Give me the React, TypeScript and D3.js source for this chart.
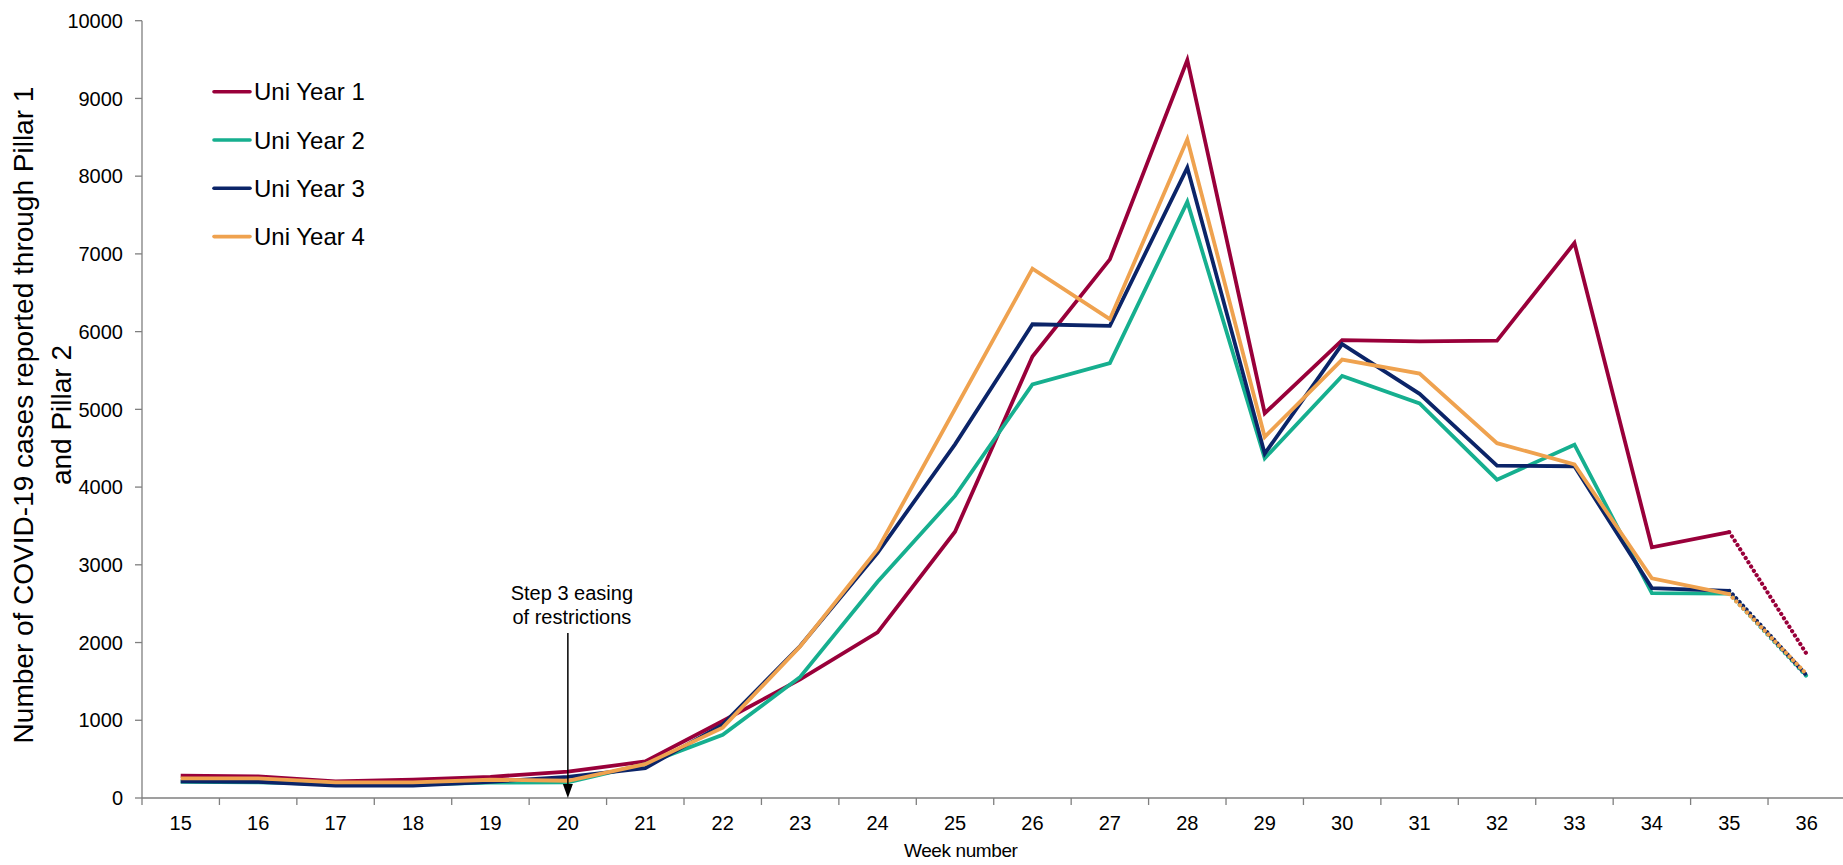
import React from "react";
import * as d3 from "d3";

const weeks = [15,16,17,18,19,20,21,22,23,24,25,26,27,28,29,30,31,32,33,34,35,36];
const year1 = [286,278,214,235,273,338,470,990,1525,2130,3425,5680,6930,9495,4950,5890,5875,5885,7140,3225,3420,1850];
const year2 = [209,200,180,171,197,200,436,812,1557,2782,3886,5320,5595,7670,4370,5430,5075,4095,4545,2635,2630,1565];
const year3 = [214,209,158,158,209,273,385,945,1955,3155,4550,6095,6075,8110,4430,5840,5200,4275,4268,2700,2665,1575];
const year4 = [252,252,200,200,235,222,436,905,1950,3200,5005,6810,6160,8475,4645,5640,5460,4565,4292,2825,2622,1592];
const seriesNames = ["Uni Year 1","Uni Year 2","Uni Year 3","Uni Year 4"];
const seriesColors = ["#99003A","#16AF8F","#0B2468","#EFA24F"];
const yTicks = [0,1000,2000,3000,4000,5000,6000,7000,8000,9000,10000];
const annotationLines = ["Step 3 easing","of restrictions"];
const annotationWeek = 20;

const W = 1843, H = 865;
const FONT = "'Liberation Sans', Arial, sans-serif";

export default function App() {
  const left = 142, band = 77.43;
  const x = d3.scaleBand<number>().domain(weeks).range([left, left + band * weeks.length]).padding(0);
  const y = d3.scaleLinear().domain([0, 10000]).range([798, 20.7]);
  const cx = (w: number) => (x(w) as number) + x.bandwidth() / 2;
  const all = [year1, year2, year3, year4];
  const lineGen = d3.line<[number, number]>().x(d => cx(d[0])).y(d => y(d[1]));
  const lastIdx = weeks.length - 1;
  const axisColor = "#7f7f7f";
  const ax = cx(annotationWeek);

  return (
    <svg width={W} height={H} style={{ position: "absolute", left: 0, top: 0, display: "block", background: "#fff" }} fontFamily={FONT}>
      {/* y axis */}
      <line x1={left} x2={left} y1={y(10000)} y2={y(0)} stroke={axisColor} strokeWidth={1.3} />
      {yTicks.map(t => (
        <g key={t}>
          <line x1={left - 7} x2={left} y1={y(t)} y2={y(t)} stroke={axisColor} strokeWidth={1.3} />
          <text x={123} y={y(t)} dy="0.36em" textAnchor="end" fontSize={20} fill="#000">{t}</text>
        </g>
      ))}
      {/* x axis */}
      <line x1={left} x2={W} y1={y(0)} y2={y(0)} stroke={axisColor} strokeWidth={1.3} />
      {weeks.map((w) => (
        <g key={w}>
          <line x1={x(w) as number} x2={x(w) as number} y1={y(0)} y2={y(0) + 7} stroke={axisColor} strokeWidth={1.3} />
          <text x={cx(w)} y={830} textAnchor="middle" fontSize={20} fill="#000">{w}</text>
        </g>
      ))}
      <text x={904} y={857} fontSize={19} fill="#000" letterSpacing={-0.4}>Week number</text>
      {/* y title */}
      <g transform={`translate(0, 415) rotate(-90)`}>
        <text x={0} y={33} textAnchor="middle" fontSize={28} fill="#000">Number of COVID-19 cases reported through Pillar 1</text>
        <text x={0} y={71} textAnchor="middle" fontSize={28} fill="#000">and Pillar 2</text>
      </g>
      {/* series */}
      {all.map((vals, si) => {
        const pts: [number, number][] = weeks.map((w, i) => [w, vals[i]]);
        const solid = pts.slice(0, lastIdx);
        const dotted = pts.slice(lastIdx - 1);
        return (
          <g key={si}>
            <path d={lineGen(solid) || ""} fill="none" stroke={seriesColors[si]} strokeWidth={3.8} strokeLinejoin="miter" />
            <path d={lineGen(dotted) || ""} fill="none" stroke={seriesColors[si]} strokeWidth={4.2} strokeLinecap="round" strokeDasharray="0.1 5" strokeDashoffset={-5} />
          </g>
        );
      })}
      {/* annotation */}
      {annotationLines.map((t, i) => (
        <text key={i} x={ax + 4} y={600 + i * 24} textAnchor="middle" fontSize={20} fill="#000">{t}</text>
      ))}
      <line x1={ax} x2={ax} y1={633} y2={786} stroke="#000" strokeWidth={1.5} />
      <path d={`M${ax - 5},${784} L${ax + 5},${784} L${ax},${798} Z`} fill="#000" />
      {/* legend */}
      {seriesNames.map((n, i) => {
        const ly = 91.7 + i * 48.3;
        return (
          <g key={n}>
            <line x1={214} x2={250} y1={ly} y2={ly} stroke={seriesColors[i]} strokeWidth={3.6} strokeLinecap="round" />
            <text x={254} y={ly} dy="0.36em" fontSize={24} fill="#000">{n}</text>
          </g>
        );
      })}
    </svg>
  );
}
